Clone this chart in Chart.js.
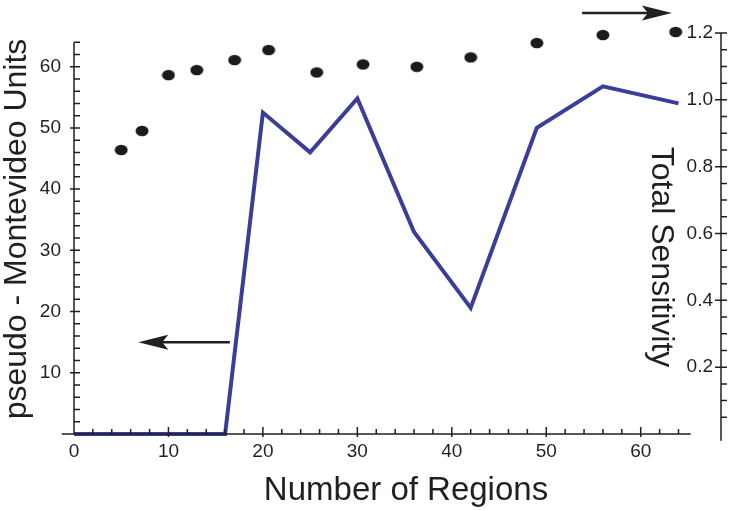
<!DOCTYPE html>
<html lang="en">
<head>
<meta charset="UTF-8">
<title>Number of Regions</title>
<style>
  body { margin: 0; background: #fff; }
  canvas { display: block; }
</style>
<script src="https://cdn.jsdelivr.net/npm/chart.js"></script>
</head>
<body>
<canvas id="chart" width="733" height="511"></canvas>
<script>
  // blue line: pseudo - Montevideo Units (left axis)
  var lineRegions = [0, 16, 20, 25, 30, 36, 42, 49, 56, 64];
  var lineUnits = [0, 0, 52.5, 46, 54.8, 33, 20.6, 50, 56.8, 54];

  // black dots: Total Sensitivity (right axis)
  var dotRegions = [5, 7.2, 10, 13, 17, 20.6, 25.7, 30.6, 36.3, 42, 49, 56, 63.7];
  var dotSensitivity = [0.85, 0.907, 1.074, 1.089, 1.119, 1.149, 1.082, 1.106, 1.099, 1.127, 1.17, 1.194, 1.203];

  // tick labels
  var xTickLabels = [0, 10, 20, 30, 40, 50, 60];
  var leftTickLabels = [10, 20, 30, 40, 50, 60];
  var rightTickLabels = [0.2, 0.4, 0.6, 0.8, 1.0, 1.2];

  var ink = '#231f20';
  var blue = '#3b3e98';
  Chart.defaults.font.family = "'Liberation Sans', Arial, sans-serif";
  Chart.defaults.color = ink;

  // slightly flattened black dot
  var dot = document.createElement('canvas');
  dot.width = 14;
  dot.height = 12;
  var dctx = dot.getContext('2d');
  dctx.fillStyle = '#1b1b1b';
  dctx.beginPath();
  dctx.ellipse(7, 6, 6.5, 5.3, 0, 0, 2 * Math.PI);
  dctx.fill();

  function drawArrow(ctx, x1, x2, y) {
    // shaft from x1 to the head at x2
    var dir = x2 > x1 ? 1 : -1;
    ctx.beginPath();
    ctx.lineWidth = 2.5;
    ctx.moveTo(x1, y);
    ctx.lineTo(x2 - dir * 20, y);
    ctx.stroke();
    ctx.beginPath();
    ctx.moveTo(x2, y);
    ctx.lineTo(x2 - dir * 30, y - 7.5);
    ctx.lineTo(x2 - dir * 24, y);
    ctx.lineTo(x2 - dir * 30, y + 7.5);
    ctx.closePath();
    ctx.fill();
  }

  // axis lines, inner/outer tick marks, titles and arrows
  var axesPlugin = {
    id: 'axes',
    afterDraw: function (chart) {
      var ctx = chart.ctx;
      var x = chart.scales.x, yL = chart.scales.yL, yR = chart.scales.yR;
      var left = chart.chartArea.left, right = chart.chartArea.right;
      var y0 = yL.getPixelForValue(0);
      var v, p, major;

      ctx.save();
      ctx.strokeStyle = ink;
      ctx.fillStyle = ink;
      ctx.lineWidth = 1.5;
      ctx.beginPath();

      // x axis
      ctx.moveTo(x.getPixelForValue(-1.3), y0);
      ctx.lineTo(x.getPixelForValue(65.3), y0);
      for (v = 2; v <= 64; v += 2) {
        p = x.getPixelForValue(v);
        major = v % 10 === 0;
        ctx.moveTo(p, y0 + (major ? 3 : 0));
        ctx.lineTo(p, y0 - (major ? 7 : 5));
      }

      // left axis
      ctx.moveTo(left, y0);
      ctx.lineTo(left, yL.getPixelForValue(64));
      for (v = 2; v <= 64; v += 2) {
        p = yL.getPixelForValue(v);
        major = v % 10 === 0;
        ctx.moveTo(left - (major ? 4 : 0), p);
        ctx.lineTo(left + 6, p);
      }

      // right axis
      ctx.moveTo(right, yR.getPixelForValue(1.2));
      ctx.lineTo(right, yR.getPixelForValue(-0.02));
      for (var i = 1; i <= 24; i++) {
        p = yR.getPixelForValue(i * 0.05);
        major = i % 4 === 0;
        ctx.moveTo(right - (major ? 6 : 0), p);
        ctx.lineTo(right + 6, p);
      }
      ctx.stroke();

      // arrows
      drawArrow(ctx, x.getPixelForValue(16.5), x.getPixelForValue(6.8), yL.getPixelForValue(15));
      drawArrow(ctx, x.getPixelForValue(53.8), x.getPixelForValue(63.3), yR.getPixelForValue(1.26));

      // titles
      ctx.font = "33px 'Liberation Sans', Arial, sans-serif";
      ctx.textAlign = 'center';
      ctx.textBaseline = 'alphabetic';
      ctx.fillText('Number of Regions', 406, 500);

      ctx.font = "32px 'Liberation Sans', Arial, sans-serif";
      ctx.textBaseline = 'middle';
      ctx.save();
      ctx.translate(17, 229);
      ctx.rotate(-Math.PI / 2);
      ctx.fillText('pseudo - Montevideo Units', 0, 0);
      ctx.restore();

      ctx.save();
      ctx.translate(661, 257);
      ctx.rotate(Math.PI / 2);
      ctx.fillText('Total Sensitivity', 0, 0);
      ctx.restore();

      ctx.restore();
    }
  };

  new Chart(document.getElementById('chart'), {
    type: 'line',
    data: {
      datasets: [{
        label: 'pseudo - Montevideo Units',
        data: lineRegions.map(function (r, i) { return { x: r, y: lineUnits[i] }; }),
        yAxisID: 'yL',
        borderColor: blue,
        borderWidth: 4,
        pointRadius: 0,
        tension: 0,
        borderJoinStyle: 'miter',
        clip: false
      }, {
        label: 'Total Sensitivity',
        data: dotRegions.map(function (r, i) { return { x: r, y: dotSensitivity[i] }; }),
        yAxisID: 'yR',
        showLine: false,
        pointStyle: dot,
        pointRadius: 6,
        clip: false
      }]
    },
    options: {
      responsive: false,
      animation: false,
      layout: { padding: { top: 33, left: 0, right: 0, bottom: 0 } },
      plugins: {
        legend: { display: false },
        tooltip: { enabled: false }
      },
      scales: {
        x: {
          type: 'linear',
          min: 0,
          max: 68.5,
          grid: { display: false },
          border: { display: false },
          afterBuildTicks: function (scale) {
            scale.ticks = xTickLabels.map(function (v) { return { value: v }; });
          },
          afterFit: function (scale) { scale.height = 77; },
          ticks: { font: { size: 19 }, padding: -2, maxRotation: 0, autoSkip: false }
        },
        yL: {
          position: 'left',
          min: 0,
          max: 65.5,
          grid: { display: false },
          border: { display: false },
          afterBuildTicks: function (scale) {
            scale.ticks = leftTickLabels.map(function (v) { return { value: v }; });
          },
          afterFit: function (scale) { scale.width = 74; },
          ticks: { font: { size: 19 }, padding: 5 }
        },
        yR: {
          position: 'right',
          min: 0,
          max: 1.2,
          grid: { display: false },
          border: { display: false },
          afterBuildTicks: function (scale) {
            scale.ticks = rightTickLabels.map(function (v) { return { value: v }; });
          },
          afterFit: function (scale) { scale.width = 12; },
          ticks: {
            font: { size: 19 },
            mirror: true,
            padding: -8,
            callback: function (v) { return Number(v).toFixed(1); }
          }
        }
      }
    },
    plugins: [axesPlugin]
  });
</script>
</body>
</html>
